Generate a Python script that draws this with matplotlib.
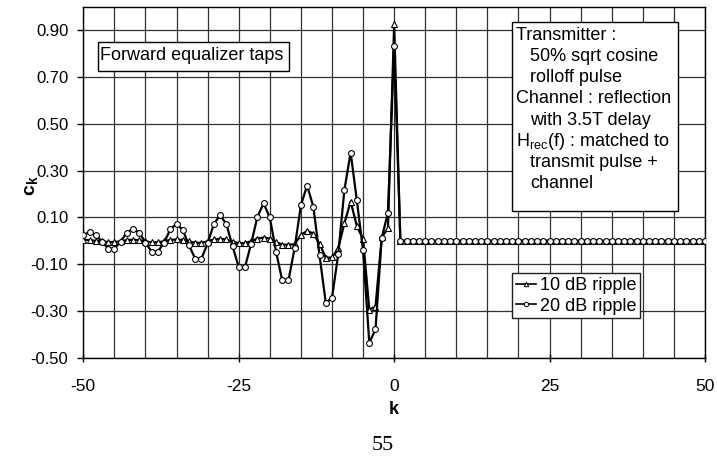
import numpy as np
import matplotlib
matplotlib.use("Agg")
import matplotlib.pyplot as plt
from matplotlib.lines import Line2D
from matplotlib.patches import Rectangle
from matplotlib.ticker import MultipleLocator, FuncFormatter

plt.rcParams['font.family'] = ['Liberation Sans', 'DejaVu Sans']
plt.rcParams['mathtext.fontset'] = 'custom'
plt.rcParams['mathtext.rm'] = 'Liberation Sans'
plt.rcParams['mathtext.it'] = 'Liberation Sans:italic'
plt.rcParams['mathtext.bf'] = 'Liberation Sans:bold'

# tap index
k = np.arange(-50, 51)

# equalizer taps, k = -50 ... 50
taps_10db = [
    0.005, 0.003, 0.000, -0.002, -0.005, -0.005, -0.002, 0.003, 0.005, 0.003,
    -0.002, -0.006, -0.006, -0.002, 0.004, 0.006, 0.004, -0.002, -0.008, -0.008,
    -0.002, 0.006, 0.009, 0.006, -0.003, -0.010, -0.010, -0.001, 0.010, 0.014,
    0.010, -0.005, -0.016, -0.017, -0.014, 0.025, 0.043, 0.031, -0.012, -0.072,
    -0.071, -0.032, 0.075, 0.168, 0.063, 0.009, -0.293, -0.281, 0.015, 0.053,
    0.925,
    0.0, 0.0, 0.0, 0.0, 0.0, 0.0, 0.0, 0.0, 0.0, 0.0,
    0.0, 0.0, 0.0, 0.0, 0.0, 0.0, 0.0, 0.0, 0.0, 0.0,
    0.0, 0.0, 0.0, 0.0, 0.0, 0.0, 0.0, 0.0, 0.0, 0.0,
    0.0, 0.0, 0.0, 0.0, 0.0, 0.0, 0.0, 0.0, 0.0, 0.0,
    0.0, 0.0, 0.0, 0.0, 0.0, 0.0, 0.0, 0.0, 0.0, 0.0,
]
taps_20db = [
    0.025, 0.037, 0.025, -0.003, -0.033, -0.033, -0.003, 0.035, 0.052, 0.035,
    -0.007, -0.046, -0.046, -0.007, 0.049, 0.074, 0.046, -0.019, -0.076, -0.076,
    -0.011, 0.072, 0.110, 0.072, -0.022, -0.112, -0.112, -0.012, 0.102, 0.160,
    0.100, -0.046, -0.169, -0.169, -0.030, 0.152, 0.236, 0.146, -0.062, -0.264,
    -0.244, -0.058, 0.218, 0.377, 0.173, -0.041, -0.435, -0.378, 0.012, 0.121,
    0.833,
    0.0, 0.0, 0.0, 0.0, 0.0, 0.0, 0.0, 0.0, 0.0, 0.0,
    0.0, 0.0, 0.0, 0.0, 0.0, 0.0, 0.0, 0.0, 0.0, 0.0,
    0.0, 0.0, 0.0, 0.0, 0.0, 0.0, 0.0, 0.0, 0.0, 0.0,
    0.0, 0.0, 0.0, 0.0, 0.0, 0.0, 0.0, 0.0, 0.0, 0.0,
    0.0, 0.0, 0.0, 0.0, 0.0, 0.0, 0.0, 0.0, 0.0, 0.0,
]
series_labels = ['10 dB ripple', '20 dB ripple']
x_ticks = [-50, -25, 0, 25, 50]
y_ticks = [-0.50, -0.30, -0.10, 0.10, 0.30, 0.50, 0.70, 0.90]

FS = 13
W, H = 717, 459
fig = plt.figure(figsize=(W / 100, H / 100), dpi=100)


def fx(px):
    return px / W


def fy(py):
    return 1 - py / H


ax = fig.add_axes([fx(83.3), fy(358), (705 - 83.3) / W, (358 - 6.6) / H])
ax.set_xlim(-50, 50)
ax.set_ylim(-0.5, 1.0)

ax.set_xticks(x_ticks)
ax.xaxis.set_minor_locator(MultipleLocator(5))
ax.set_yticks(y_ticks)
ax.yaxis.set_major_formatter(FuncFormatter(lambda v, p: f"{v:.2f}"))
ax.xaxis.set_major_formatter(FuncFormatter(lambda v, p: f"{int(round(v))}"))

ax.grid(True, which='both', axis='x', color='#303030', lw=0.9)
ax.grid(True, which='major', axis='y', color='#303030', lw=0.9)
ax.set_axisbelow(True)
ax.tick_params(axis='x', which='major', direction='inout', length=6, width=1,
               pad=12, labelsize=12.5)
ax.tick_params(axis='x', which='minor', length=0)
ax.tick_params(axis='y', which='major', direction='out', length=4, width=1,
               pad=6.8, labelsize=12)
for s in ax.spines.values():
    s.set_color('black')
    s.set_linewidth(1.0)

ax.plot(k, taps_10db, color='black', lw=1.6, marker='^', ms=4.2,
        mfc='white', mec='black', mew=0.8, zorder=3)
ax.plot(k, taps_20db, color='black', lw=1.6, marker='o', ms=4.2,
        mfc='white', mec='black', mew=0.8, zorder=4)

# axis titles
fig.text(fx(394), fy(410), 'k', ha='center', va='center',
         fontsize=FS, fontweight='bold')
fig.text(fx(31), fy(186), r'$\mathbf{c}_{\mathbf{k}}$', ha='center',
         va='center', rotation=90, fontsize=FS + 1)

# title box
fig.add_artist(Rectangle((fx(97.7), fy(71.3)), (288.7 - 97.7) / W,
                         (71.3 - 42) / H, transform=fig.transFigure,
                         facecolor='white', edgecolor='black', lw=1.0, zorder=5))
fig.text(fx(100.5), fy(59.6), 'Forward equalizer taps', ha='left',
         va='baseline', fontsize=FS, zorder=6)

# description box
fig.add_artist(Rectangle((fx(512.3), fy(211)), (678.3 - 512.3) / W,
                         (211 - 21.7) / H, transform=fig.transFigure,
                         facecolor='white', edgecolor='black', lw=1.0, zorder=5))
desc_lines = [
    (0, 'Transmitter :'),
    (1, '50% sqrt cosine'),
    (1, 'rolloff pulse'),
    (0, 'Channel : reflection'),
    (1, 'with 3.5T delay'),
    (0, r'H$_{\mathrm{rec}}$(f) : matched to'),
    (1, 'transmit pulse +'),
    (1, 'channel'),
]
for i, (indent, txt) in enumerate(desc_lines):
    x0 = 530.5 if indent else 515.5
    fig.text(fx(x0), fy(39.6 + i * 21.25), txt, ha='left', va='baseline',
             fontsize=FS, zorder=6)

# legend
handles = [
    Line2D([], [], color='black', lw=1.2, marker='^', ms=3.2, mfc='white',
           mec='black', mew=0.7),
    Line2D([], [], color='black', lw=1.2, marker='o', ms=3.2, mfc='white',
           mec='black', mew=0.7),
]
leg = ax.legend(handles, series_labels, loc='upper left',
                bbox_to_anchor=(fx(512), fy(273.3)),
                bbox_transform=fig.transFigure, fontsize=FS, handlelength=1.15,
                handletextpad=0.18, borderpad=0.2, labelspacing=0.2,
                borderaxespad=0, fancybox=False, framealpha=1,
                edgecolor='#202020')
leg.get_frame().set_linewidth(1.0)

# page number
fig.text(fx(383), fy(446), '55', ha='center', va='center',
         fontsize=16, family='Liberation Serif')

fig.savefig('out.png', dpi=100, facecolor='white')
